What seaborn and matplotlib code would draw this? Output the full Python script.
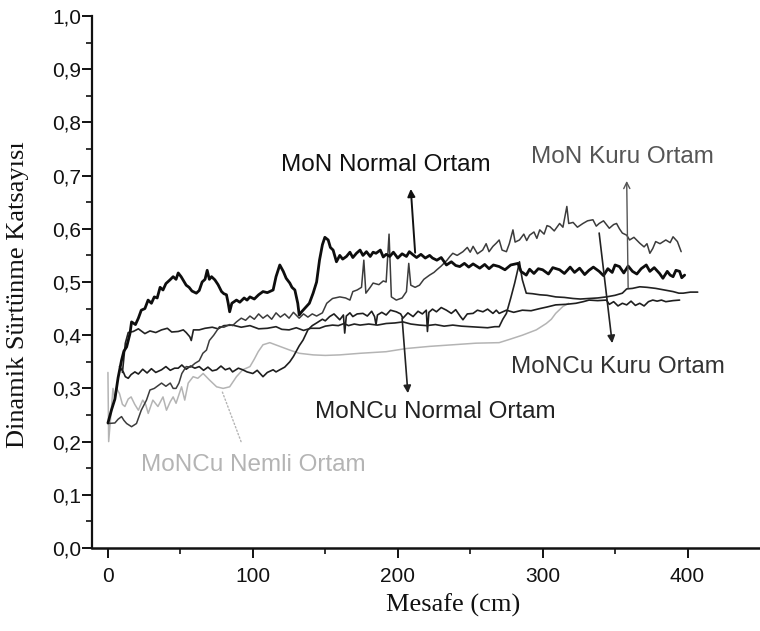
"""Dinamik surtunme katsayisi - mesafe egrileri (MoN / MoNCu kaplamalar)."""

import matplotlib

matplotlib.use("Agg")

import matplotlib.pyplot as plt
import pandas as pd
import seaborn as sns
from matplotlib.ticker import FixedLocator, FuncFormatter

# --- values (x: Mesafe [cm], y: surtunme katsayisi) ---
mon_normal_x = [
    0, 2.5, 4.8, 7, 9.4, 11, 12.9, 15.2, 16.3, 19, 21, 23, 25.5, 27.7, 30, 32, 34, 36, 38,
    40, 42.8, 45, 47, 48.5, 50.5, 52, 54, 56, 58, 61, 63, 65, 67, 68.5, 70, 71.5, 73.8,
    76, 78.4, 80, 81.8, 83, 84, 85.5, 88.7, 91, 94, 96, 98, 101, 104, 107, 110, 114, 116,
    118.6, 121, 123, 125.5, 127, 129, 131, 132, 134, 137, 139, 141.6, 144, 146, 148,
    149.7, 152, 153.5, 155.4, 157.7, 160, 162, 164.6, 167, 169, 171.5, 174, 176, 178.4,
    181, 183, 185, 188, 190, 192, 194.5, 197, 200, 203, 206, 208, 210.6, 213, 216, 219,
    222, 224, 227, 230, 233.6, 237, 240, 242.8, 246, 249, 252, 256.6, 260, 263, 266, 270,
    274, 278, 283, 285, 288.7, 291, 294, 297, 300, 304, 307, 311.7, 315, 319, 322, 325.5,
    329, 332, 335, 339, 342, 345, 348, 350, 353, 356, 359, 362, 365, 368, 371.5, 374, 377,
    380.7, 383, 386, 388, 390, 392, 394.5, 396, 398,
]
mon_normal_y = [
    0.235, 0.26, 0.28, 0.32, 0.353, 0.37, 0.378, 0.403, 0.425, 0.42, 0.432, 0.447, 0.45,
    0.466, 0.46, 0.472, 0.47, 0.49, 0.485, 0.497, 0.504, 0.51, 0.505, 0.517, 0.51, 0.503,
    0.494, 0.49, 0.483, 0.479, 0.484, 0.50, 0.505, 0.522, 0.505, 0.51, 0.504, 0.495,
    0.482, 0.478, 0.476, 0.46, 0.444, 0.46, 0.466, 0.462, 0.47, 0.466, 0.472, 0.468,
    0.476, 0.482, 0.48, 0.485, 0.51, 0.532, 0.52, 0.507, 0.498, 0.49, 0.485, 0.46, 0.438,
    0.445, 0.454, 0.46, 0.479, 0.50, 0.541, 0.57, 0.584, 0.579, 0.565, 0.56, 0.538, 0.55,
    0.543, 0.548, 0.556, 0.546, 0.554, 0.56, 0.55, 0.557, 0.548, 0.556, 0.554, 0.56,
    0.547, 0.552, 0.548, 0.556, 0.545, 0.553, 0.548, 0.557, 0.551, 0.546, 0.552, 0.545,
    0.55, 0.545, 0.541, 0.546, 0.532, 0.538, 0.531, 0.529, 0.535, 0.528, 0.534, 0.526,
    0.533, 0.525, 0.532, 0.529, 0.523, 0.532, 0.535, 0.52, 0.513, 0.524, 0.516, 0.525,
    0.523, 0.515, 0.527, 0.523, 0.516, 0.528, 0.518, 0.526, 0.514, 0.522, 0.528, 0.52,
    0.512, 0.525, 0.518, 0.532, 0.529, 0.517, 0.53, 0.52, 0.515, 0.525, 0.532, 0.52,
    0.527, 0.516, 0.507, 0.52, 0.513, 0.51, 0.522, 0.52, 0.508, 0.513,
]

moncu_kuru_x = [
    0, 4.8, 7, 9.4, 11, 12.9, 16.3, 19.7, 23, 26.6, 29, 32, 35, 37, 40, 43, 45, 47, 49, 51,
    54, 57, 60, 63, 65.5, 68, 70, 73, 77, 80, 84, 86, 88.7, 92, 95, 98, 101, 104, 107, 110,
    113, 116, 119, 122, 125, 128, 132, 135, 138, 141, 144, 148, 151, 155, 160, 164, 167,
    169, 172, 175, 176.6, 178, 181, 183, 187, 190, 192, 194, 195.6, 199, 203, 206, 207.6,
    209, 212, 215, 218, 222, 225, 227, 230, 234, 236, 238, 241, 245, 248, 250, 252, 255,
    258.6, 261, 263, 265.7, 268, 270, 272, 275, 277, 279.5, 281, 284, 287, 289, 291, 294,
    296, 298, 301, 303, 305, 308, 311.7, 314, 316.7, 318, 321, 324, 327.8, 331, 334.7,
    337, 339, 342, 346, 349, 351, 353, 355, 358, 360, 363, 367, 370, 372, 374, 376, 378,
    381, 385, 388, 390, 393, 395.6,
]
moncu_kuru_y = [
    0.234, 0.235, 0.242, 0.247, 0.24, 0.234, 0.228, 0.234, 0.259, 0.278, 0.297, 0.30,
    0.306, 0.31, 0.304, 0.31, 0.30, 0.30, 0.31, 0.328, 0.341, 0.34, 0.347, 0.352, 0.366,
    0.372, 0.39, 0.40, 0.416, 0.415, 0.42, 0.418, 0.425, 0.432, 0.428, 0.436, 0.43, 0.44,
    0.432, 0.438, 0.43, 0.442, 0.434, 0.44, 0.432, 0.443, 0.432, 0.44, 0.434, 0.44, 0.436,
    0.442, 0.46, 0.469, 0.472, 0.47, 0.466, 0.482, 0.485, 0.49, 0.541, 0.479, 0.49, 0.498,
    0.495, 0.502, 0.50, 0.59, 0.472, 0.466, 0.47, 0.482, 0.535, 0.494, 0.49, 0.494, 0.505,
    0.513, 0.518, 0.523, 0.53, 0.541, 0.548, 0.554, 0.55, 0.557, 0.565, 0.556, 0.567,
    0.553, 0.56, 0.572, 0.557, 0.567, 0.573, 0.579, 0.56, 0.557, 0.572, 0.598, 0.575,
    0.579, 0.59, 0.578, 0.588, 0.594, 0.582, 0.598, 0.59, 0.606, 0.604, 0.596, 0.61, 0.603,
    0.642, 0.61, 0.612, 0.603, 0.61, 0.615, 0.617, 0.605, 0.61, 0.615, 0.601, 0.608, 0.61,
    0.6, 0.592, 0.588, 0.579, 0.584, 0.573, 0.566, 0.572, 0.554, 0.563, 0.576, 0.572,
    0.579, 0.574, 0.585, 0.576, 0.557,
]

mon_kuru_x = [
    10, 12, 14, 17.5, 21, 25.5, 29, 33, 37, 41, 44, 48.5, 52, 54, 56.5, 57.5, 59, 63, 67,
    72, 76, 80, 86, 92, 98, 104, 110, 116, 120, 125, 130, 135, 140, 146, 150, 155, 159,
    163, 166, 170, 174, 180, 186, 192, 198, 203.6, 209, 215, 220, 226, 232, 238, 244, 250,
    256, 262, 267, 270, 272.5, 275, 278, 280.7, 283, 284, 285, 286, 288.7, 293, 298, 303,
    309, 315, 321, 326, 332, 338, 344, 350, 355, 358, 362, 367, 372, 378, 384, 390, 394,
    397, 402, 407,
]
mon_kuru_y = [
    0.33, 0.385, 0.405, 0.407, 0.412, 0.403, 0.408, 0.405, 0.41, 0.413, 0.406, 0.407, 0.41,
    0.405, 0.397, 0.39, 0.41, 0.41, 0.413, 0.415, 0.412, 0.418, 0.419, 0.415, 0.418, 0.412,
    0.413, 0.416, 0.411, 0.41, 0.414, 0.409, 0.413, 0.413, 0.417, 0.419, 0.418, 0.422,
    0.418, 0.421, 0.419, 0.421, 0.419, 0.422, 0.423, 0.425, 0.421, 0.419, 0.418, 0.42,
    0.417, 0.419, 0.417, 0.416, 0.415, 0.414, 0.416, 0.416, 0.43, 0.441, 0.47, 0.498,
    0.525, 0.538, 0.52, 0.504, 0.479, 0.478, 0.476, 0.475, 0.472, 0.471, 0.469, 0.468,
    0.469, 0.47, 0.472, 0.475, 0.479, 0.487, 0.488, 0.491, 0.49, 0.488, 0.485, 0.482,
    0.479, 0.479, 0.481, 0.481,
]

moncu_normal_x = [
    8, 10.6, 12, 14, 16, 18.6, 21, 24, 27, 30, 33, 37, 40, 43, 46, 48.5, 51, 54, 57, 60, 63,
    66, 69, 72, 75, 78, 81, 84, 86, 90, 93, 96, 100, 103, 107, 110, 114, 116, 118.6, 122,
    125.5, 128, 130, 132, 134.7, 138, 141, 144, 148, 150, 153, 156, 160, 162.5, 163.4,
    164.5, 167, 169, 172, 176, 179, 182, 184, 185, 186, 189, 192, 195, 199, 202, 203.6,
    207, 210.6, 214, 217, 219.7, 220.5, 221.5, 224, 226.7, 230, 233.6, 237, 240, 243, 245,
    248, 252, 255, 258.8, 262, 265.7, 268, 270, 275, 280, 286, 292, 298, 303, 309, 316,
    323, 328, 332, 338, 344, 346, 349, 352, 355, 358, 361, 364, 367, 370, 373, 376, 379,
    382, 385, 390, 394.5,
]
moncu_normal_y = [
    0.341, 0.331, 0.322, 0.319, 0.326, 0.331, 0.327, 0.336, 0.329, 0.337, 0.33, 0.335,
    0.341, 0.334, 0.338, 0.338, 0.344, 0.336, 0.342, 0.338, 0.341, 0.334, 0.34, 0.333,
    0.335, 0.342, 0.335, 0.338, 0.331, 0.338, 0.335, 0.331, 0.328, 0.334, 0.322, 0.33,
    0.335, 0.331, 0.335, 0.34, 0.35, 0.36, 0.37, 0.38, 0.391, 0.41, 0.418, 0.423, 0.43,
    0.427, 0.435, 0.44, 0.429, 0.438, 0.404, 0.436, 0.442, 0.435, 0.44, 0.441, 0.436,
    0.445, 0.435, 0.42, 0.438, 0.443, 0.438, 0.447, 0.444, 0.44, 0.432, 0.442, 0.435,
    0.445, 0.44, 0.447, 0.407, 0.443, 0.449, 0.444, 0.452, 0.447, 0.441, 0.448, 0.436,
    0.429, 0.44, 0.441, 0.447, 0.444, 0.449, 0.441, 0.447, 0.441, 0.447, 0.443, 0.447,
    0.446, 0.45, 0.453, 0.457, 0.458, 0.46, 0.463, 0.466, 0.465, 0.466, 0.458, 0.463,
    0.455, 0.46, 0.457, 0.464, 0.456, 0.46, 0.455, 0.463, 0.466, 0.464, 0.466, 0.463,
    0.465, 0.466,
]

moncu_nemli_x = [
    0, 0.5, 2, 3.5, 4.8, 6, 8, 10, 11.7, 14, 16, 18.5, 21, 24, 26, 27.8, 31, 34.5, 38,
    40.4, 43, 45, 47, 50.8, 53, 55.4, 58.8, 62, 65.7, 70, 75, 79.5, 84, 88.7, 93, 98, 101,
    103.7, 107, 111.7, 118.6, 125.5, 132, 141.6, 150, 160, 174, 192, 206, 222, 238, 254,
    270, 277, 286, 295.6, 302.5, 306, 309, 314, 318,
]
moncu_nemli_y = [
    0.33, 0.20, 0.25, 0.30, 0.278, 0.30, 0.29, 0.27, 0.266, 0.28, 0.284, 0.27, 0.259,
    0.278, 0.27, 0.253, 0.278, 0.266, 0.284, 0.259, 0.275, 0.284, 0.272, 0.303, 0.278,
    0.31, 0.322, 0.319, 0.328, 0.316, 0.303, 0.30, 0.303, 0.322, 0.335, 0.341, 0.355,
    0.369, 0.382, 0.386, 0.379, 0.372, 0.366, 0.363, 0.362, 0.363, 0.366, 0.369, 0.375,
    0.379, 0.382, 0.385, 0.386, 0.392, 0.40, 0.41, 0.422, 0.43, 0.441, 0.454, 0.46,
]

y_ticks = [0.0, 0.1, 0.2, 0.3, 0.4, 0.5, 0.6, 0.7, 0.8, 0.9, 1.0]
x_ticks = [0, 100, 200, 300, 400]


def comma_decimal(value, _pos):
    return f"{value:.1f}".replace(".", ",")


def main() -> None:
    sns.set_style("ticks")
    plt.rcParams["font.family"] = ["Liberation Sans", "DejaVu Sans"]

    fig = plt.figure(figsize=(7.6, 6.31), dpi=100)
    ax = fig.add_axes([92 / 760, 1 - 548 / 631, 1 - 92 / 760, 532 / 631])

    curves = [
        (moncu_nemli_x, moncu_nemli_y, "#b4b4b4", 1.1),
        (moncu_normal_x, moncu_normal_y, "#1e1e1e", 1.2),
        (mon_kuru_x, mon_kuru_y, "#222222", 1.2),
        (moncu_kuru_x, moncu_kuru_y, "#3c3c3c", 1.1),
        (mon_normal_x, mon_normal_y, "#0e0e0e", 2.0),
    ]
    for xs, ys, color, lw in curves:
        df = pd.DataFrame({"mesafe": xs, "mu": ys})
        sns.lineplot(data=df, x="mesafe", y="mu", ax=ax, color=color, linewidth=lw,
                     sort=False, estimator=None)

    ax.set_xlim(-11, 450)
    ax.set_ylim(0, 1.0)

    sns.despine(ax=ax)
    ax.spines["left"].set_linewidth(1.6)
    ax.spines["bottom"].set_linewidth(1.8)
    ax.spines["left"].set_color("#111111")
    ax.spines["bottom"].set_color("#111111")

    ax.yaxis.set_major_locator(FixedLocator(y_ticks))
    ax.yaxis.set_minor_locator(FixedLocator([v + 0.05 for v in y_ticks[:-1]]))
    ax.yaxis.set_major_formatter(FuncFormatter(comma_decimal))
    ax.xaxis.set_major_locator(FixedLocator(x_ticks))
    ax.xaxis.set_minor_locator(FixedLocator([v + 50 for v in x_ticks[:-1]]))

    ax.tick_params(axis="both", which="major", direction="out", length=7, width=1.4,
                   colors="#111111", labelsize=15)
    ax.tick_params(axis="both", which="minor", direction="out", length=4.5, width=1.2,
                   colors="#111111")
    ax.tick_params(axis="y", which="major", pad=1)
    ax.tick_params(axis="x", which="major", pad=7)

    ax.set_xlabel("Mesafe (cm)", family="Liberation Serif", fontsize=19, color="#111111")
    ax.set_ylabel("Dinamik Sürtünme Katsayısı", family="Liberation Serif", fontsize=19,
                  color="#111111")
    ax.xaxis.set_label_coords((453 - 92) / 668, (548 - 605) / 532)
    ax.yaxis.set_label_coords((18 - 92) / 668, (548 - 295) / 532)
    ax.xaxis.label.set_va("center")
    ax.yaxis.label.set_va("center")

    # labels with their arrows
    labels = [
        ("MoN Normal Ortam", 192, 0.72, "#111111"),
        ("MoN Kuru Ortam", 355, 0.735, "#555555"),
        ("MoNCu Kuru Ortam", 352, 0.34, "#333333"),
        ("MoNCu Normal Ortam", 226, 0.256, "#222222"),
        ("MoNCu Nemli Ortam", 100, 0.156, "#b4b4b4"),
    ]
    for text, tx, ty, color in labels:
        ax.text(tx, ty, text, ha="center", va="center", fontsize=17.5, color=color)

    arrows = [
        ((209, 0.675), (212, 0.555), "-|>", "#111111", 1.4, "-"),
        ((358, 0.69), (359, 0.489), "->", "#555555", 1.0, "-"),
        ((348, 0.385), (339, 0.592), "-|>", "#222222", 1.2, "-"),
        ((207, 0.291), (203, 0.432), "-|>", "#222222", 1.2, "-"),
        ((92, 0.199), (79, 0.293), "-", "#b4b4b4", 1.0, ":"),
    ]
    for head, tail, style, color, lw, ls in arrows:
        ax.annotate("", xy=head, xytext=tail,
                    arrowprops=dict(arrowstyle=style, color=color, lw=lw, linestyle=ls,
                                    shrinkA=0, shrinkB=0, mutation_scale=11))

    fig.savefig("out.png", dpi=100)
    plt.close(fig)


if __name__ == "__main__":
    main()
